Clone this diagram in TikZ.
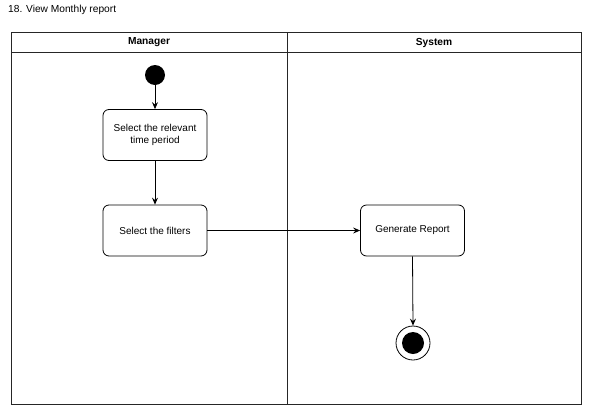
\documentclass[tikz,border=0pt]{standalone}
\usepackage{fontspec}
\setmainfont{Liberation Sans}
\usetikzlibrary{arrows.meta}
\begin{document}
\begin{tikzpicture}[x=1pt,y=-1pt,
  lane/.style={draw=black!85, line width=0.9pt},
  action/.style={draw, rounded corners=6pt, line width=0.8pt, minimum width=104pt, minimum height=51pt, align=center, font=\fontsize{10}{12.5}\selectfont, inner sep=2pt},
  flow/.style={draw, line width=0.8pt, -{Stealth[length=7pt,width=6pt,inset=2.5pt]}},
  hdr/.style={font=\fontsize{10.2}{12}\selectfont\bfseries}]
\useasboundingbox (0,0) rectangle (594,418);
% title
\node[anchor=west, font=\fontsize{10.2}{12}\selectfont, inner sep=0pt] (title) at (8,10) {18. View Monthly report};
% swimlanes
\draw[lane] (11,32) rectangle (581,404);
\draw[lane] (11,52) -- (581,52);
\draw[lane] (287,32) -- (287,404);
\node[hdr] (mgr) at (149,42.5) {Manager};
\node[hdr] (sys) at (434,42.5) {System};
% nodes
\node[circle, fill=black, minimum size=20pt, inner sep=0pt] (start) at (155,75) {};
\node[action] (period) at (155,135) {Select the relevant\\time period};
\node[action] (filters) at (155,230.5) {Select the filters};
\node[action] (report) at (412.5,230.5) {Generate Report};
\node[circle, draw, line width=0.8pt, minimum size=34pt, inner sep=0pt] (end) at (413,343) {};
\node[circle, fill=black, minimum size=22pt, inner sep=0pt] (endin) at (end) {};
% flows
\draw[flow] (start) -- (period);
\draw[flow] (period) -- (filters);
\draw[flow] (filters) -- (report);
\draw[flow] (report.south) -- (end.north);
\end{tikzpicture}
\end{document}
